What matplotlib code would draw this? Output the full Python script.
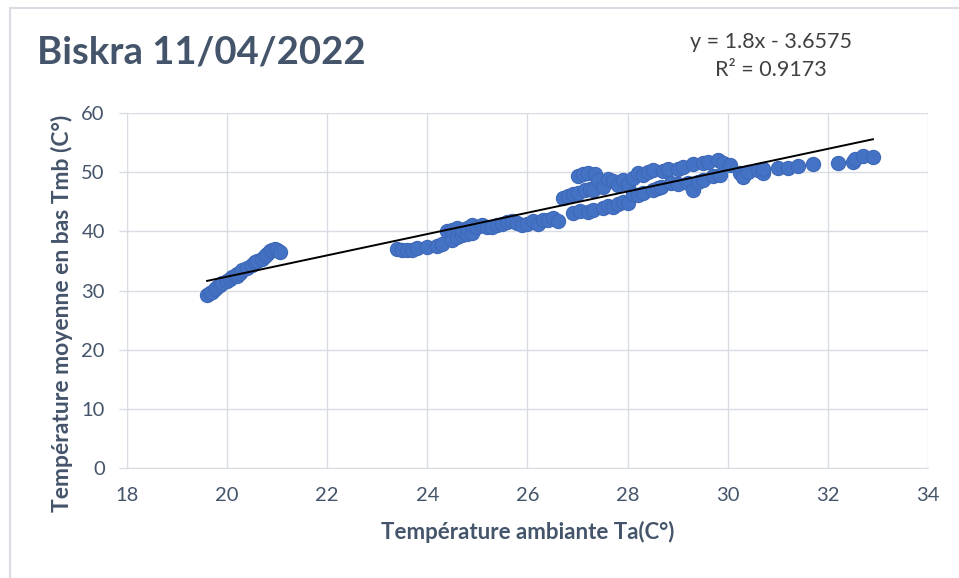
import matplotlib
matplotlib.use("Agg")
import matplotlib.pyplot as plt
from matplotlib.patches import Rectangle
import numpy as np

plt.rcParams['font.family'] = ['Lato', 'DejaVu Sans']

title = "Biskra 11/04/2022"
xlabel = "Température ambiante Ta(C°)"
ylabel = "Température moyenne en bas Tmb (C°)"
slope = 1.8
intercept = -3.6575
r2 = 0.9173

ta = [19.6, 19.65, 19.7, 19.75, 19.8, 19.85, 19.9, 20.0, 20.05, 20.1, 20.15, 20.2, 20.2,
      20.25, 20.3, 20.4, 20.5, 20.55, 20.6, 20.7, 20.75, 20.8, 20.85, 20.9, 20.95, 21.0, 21.05,
      23.4, 23.5, 23.6, 23.7, 23.8, 24.0, 24.2, 24.3, 24.4, 24.5, 24.5, 24.6, 24.6, 24.7, 24.7,
      24.8, 24.8, 24.9, 24.9, 25.0, 25.1, 25.2, 25.3, 25.4, 25.5, 25.6, 25.7, 25.8, 25.9, 26.0,
      26.1, 26.2, 26.3, 26.4, 26.5, 26.6,
      26.7, 26.8, 26.9, 26.9, 27.0, 27.0, 27.05, 27.1, 27.15, 27.2, 27.2, 27.25, 27.3, 27.3,
      27.35, 27.4, 27.5, 27.5, 27.6, 27.6, 27.7, 27.7, 27.8, 27.8, 27.9, 27.9, 28.0, 28.0,
      28.1, 28.1, 28.2, 28.2, 28.3, 28.3, 28.4, 28.5, 28.5, 28.6, 28.66, 28.7, 28.8, 28.86,
      29.0, 29.0, 29.1, 29.2, 29.3, 29.3, 29.4, 29.5, 29.5, 29.6, 29.7, 29.8, 29.85, 29.9,
      30.05, 30.25, 30.3, 30.4, 30.6, 30.7, 30.7,
      31.0, 31.2, 31.4, 31.7, 32.2, 32.5, 32.55, 32.7, 32.9]
tmb = [29.3, 29.6, 29.8, 30.3, 30.6, 30.9, 31.2, 31.6, 31.9, 32.2, 32.5, 32.4, 32.8,
       33.0, 33.4, 33.8, 34.3, 34.8, 35.0, 35.3, 35.8, 36.2, 36.6, 36.8, 37.0, 36.8, 36.5,
       37.0, 36.9, 36.8, 36.9, 37.1, 37.3, 37.6, 37.9, 40.0, 38.5, 40.3, 39.0, 40.5, 39.3, 40.2,
       39.5, 40.6, 39.8, 41.0, 40.8, 41.0, 40.7, 40.8, 41.0, 41.2, 41.5, 41.8, 41.4, 41.0, 41.3,
       41.7, 41.2, 41.9, 42.0, 42.2, 41.8,
       45.6, 46.0, 43.1, 46.3, 49.3, 46.5, 43.4, 49.7, 47.0, 49.8, 43.2, 47.2, 43.6, 47.0,
       49.7, 48.7, 44.0, 47.5, 48.9, 44.3, 44.1, 48.5, 44.6, 47.8, 48.7, 45.0, 44.8, 48.0,
       46.3, 49.0, 49.8, 46.2, 46.5, 49.6, 50.0, 47.0, 50.3, 47.3, 47.5, 50.2, 50.5, 48.2,
       50.6, 48.0, 50.9, 48.2, 47.0, 51.3, 48.4, 48.7, 51.6, 51.7, 49.3, 52.0, 49.5, 51.5,
       51.2, 49.8, 49.2, 50.1, 50.4, 49.8, 50.5,
       50.7, 50.7, 51.0, 51.4, 51.5, 51.7, 52.3, 52.7, 52.5]

xticks = [18, 20, 22, 24, 26, 28, 30, 32, 34]
yticks = [0, 10, 20, 30, 40, 50, 60]

text_col = '#44546A'
grid_col = '#D9DDE3'

fig = plt.figure(figsize=(9.59, 5.78), dpi=100)
fig.patches.append(Rectangle((10/959, -0.05), 1.2, 1.05 - 8/578, transform=fig.transFigure,
                             fill=False, edgecolor=grid_col, linewidth=1.5))
ax = fig.add_axes([127/959, 1-468/578, (928-127)/959, (468-113)/578])

ax.scatter(ta, tmb, s=105, color='#4472C4', edgecolors='#3E69B8', linewidths=0.8, zorder=3)
xs = np.array([min(ta), max(ta)])
ax.plot(xs, slope*xs + intercept, color='black', linewidth=1.4, zorder=4)

ax.set_xlim(18, 34)
ax.set_ylim(0, 60)
ax.set_xticks(xticks)
ax.set_yticks(yticks)
ax.grid(True, color=grid_col, linewidth=1.0, zorder=0)
ax.set_axisbelow(True)
for s in ['top', 'right']:
    ax.spines[s].set_visible(False)
ax.spines['bottom'].set_color(grid_col)
ax.spines['left'].set_color(grid_col)
ax.tick_params(axis='x', length=0, labelsize=14.5, labelcolor=text_col, pad=14)
ax.tick_params(axis='y', length=6, width=1.0, color=grid_col, labelsize=14.5,
               labelcolor=text_col, pad=10)
ax.set_xlabel(xlabel, fontsize=16, fontweight='bold', color=text_col, labelpad=12)
ax.set_ylabel(ylabel, fontsize=16.5, fontweight='bold', color=text_col)
ax.yaxis.set_label_coords((73 - 127) / 801, (468 - 313) / 355)

fig.text(37/959, 1-53/578, title, fontsize=27.5, fontweight='bold', color=text_col,
         ha='left', va='center')
fig.text(771/959, 1-42/578, f"y = {slope}x - {abs(intercept)}", fontsize=15.5, color='#404040',
         ha='center', va='center')
fig.text(771/959, 1-70/578, f"R² = {r2}", fontsize=15.5, color='#404040',
         ha='center', va='center')

fig.savefig("out.png", dpi=100)
